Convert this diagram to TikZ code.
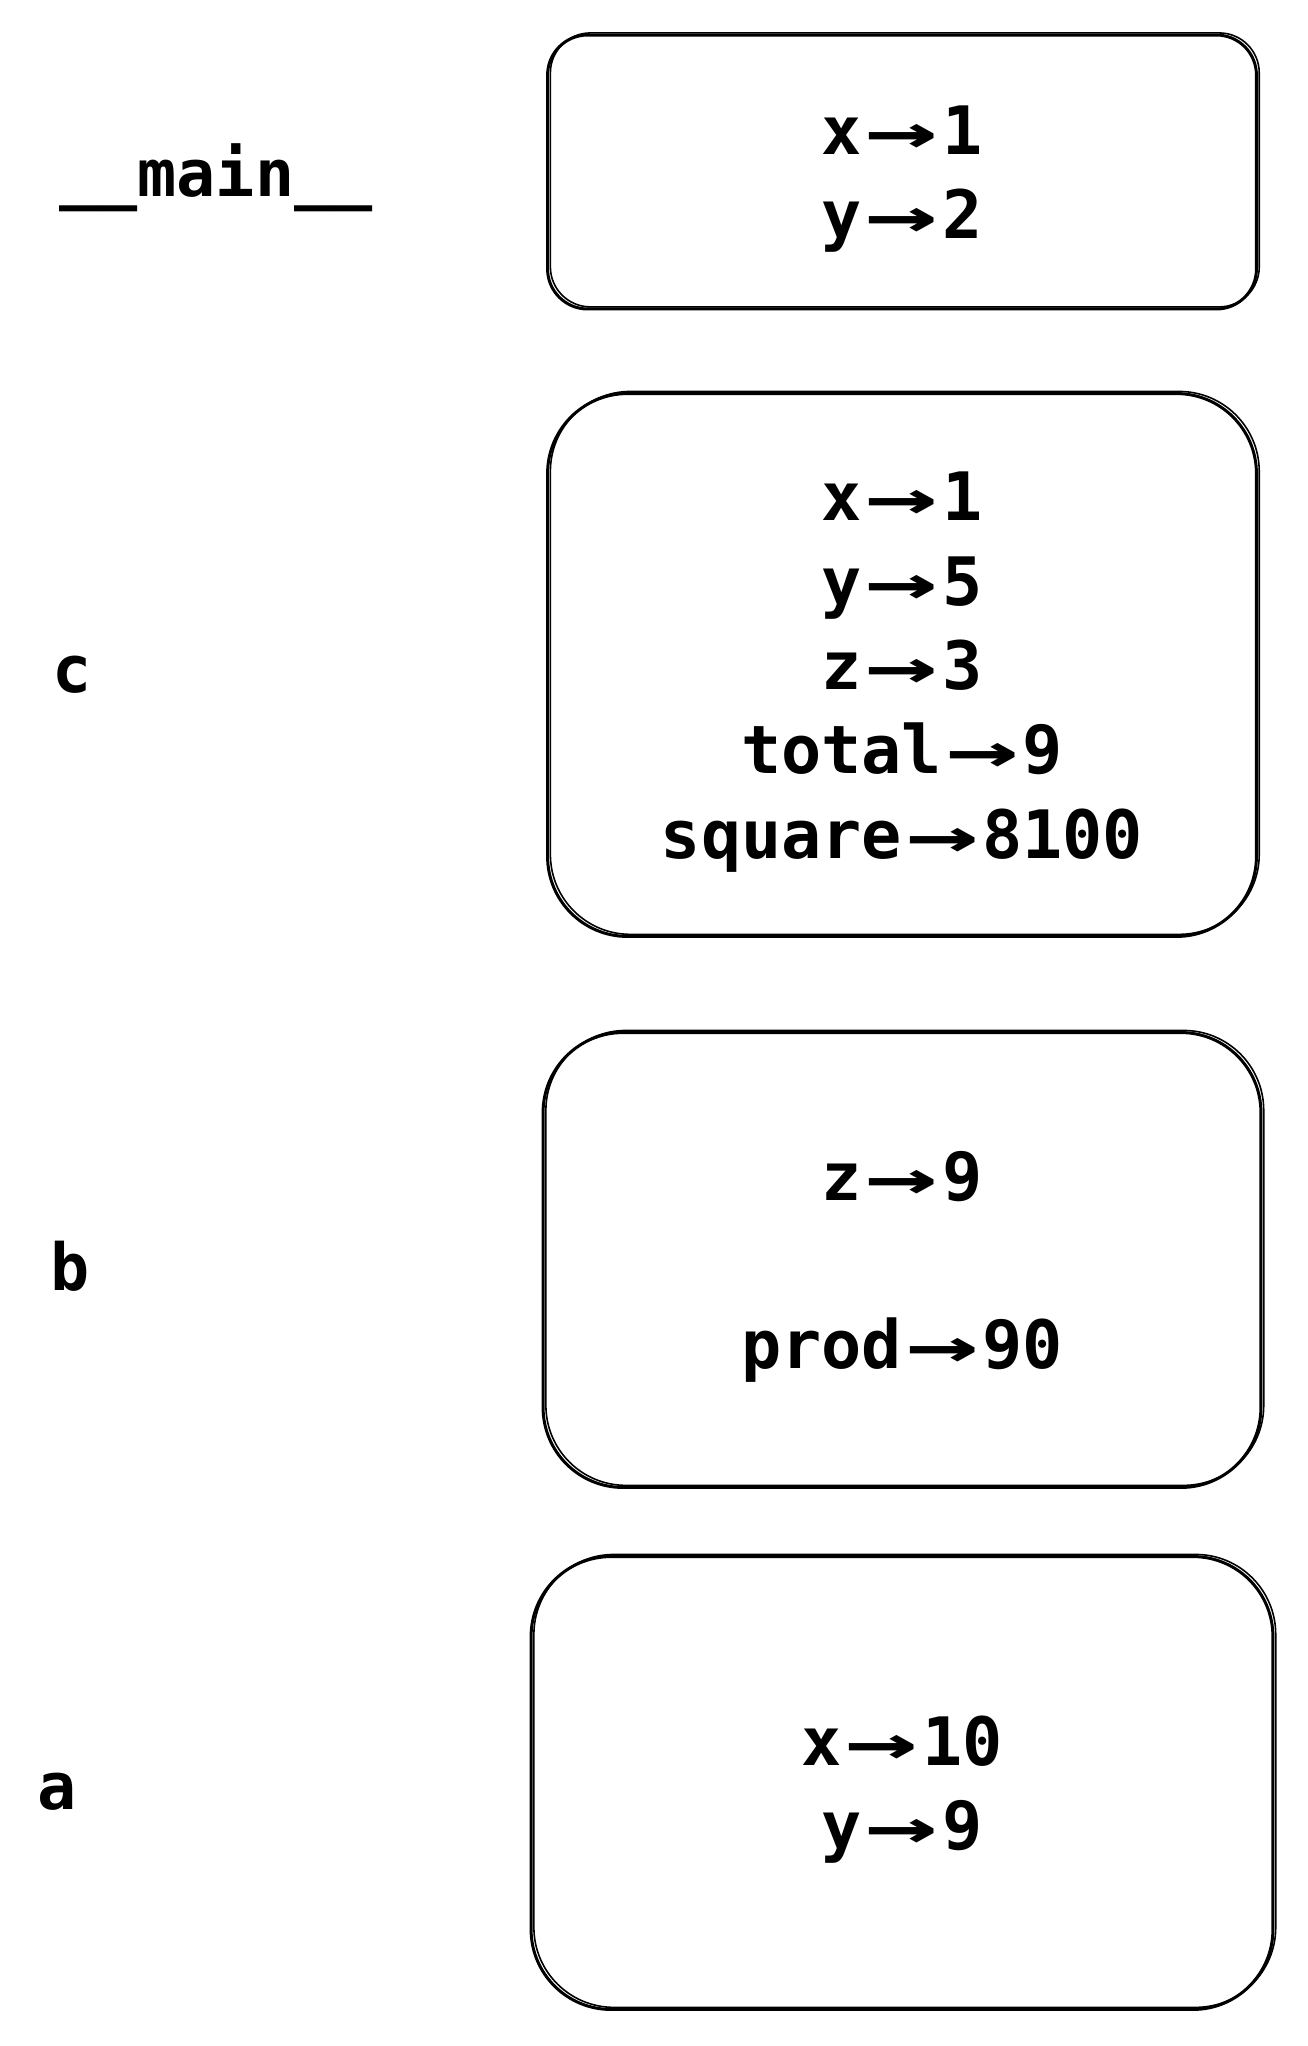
\documentclass[tikz,border=0pt]{standalone}
\usepackage{fontspec}
\setmonofont{DejaVu Sans Mono}
\usepackage{graphicx}
\usetikzlibrary{positioning}
\newcommand{\ra}{\makebox[1.204em]{\scalebox{1.8}[1]{→}}}

\begin{document}
\begin{tikzpicture}[x=0.02cm,y=-0.02cm,
  frame/.style={draw,line width=1.7pt,rounded corners=#1,align=center,
                font=\ttfamily\bfseries\fontsize{38}{48}\selectfont,inner sep=0pt,
                text depth=-4pt,
                postaction={draw,line width=0.9pt,transform canvas={xshift=1.6pt,yshift=1.2pt}}},
  fname/.style={anchor=west,inner sep=0pt,font=\ttfamily\bfseries\fontsize{37}{48}\selectfont},
]
\useasboundingbox (0,0) rectangle (1308,2046);
% frame names
\node[fname] (main) at (59,178) {\_\_main\_\_};
\node[fname] (fc) at (52,675) {c};
\node[fname] (fb) at (50,1266) {b};
\node[fname] (fa) at (37,1792) {a};
% frames
\node[frame=0.8cm,minimum width=14.18cm,minimum height=5.48cm] (mainbox) at (902,172)
  {x\ra1\\y\ra2};
\node[frame=1.6cm,minimum width=14.18cm,minimum height=10.86cm] (cbox) at (902,665)
  {x\ra1\\y\ra5\\z\ra3\\total\ra9\\square\ra8100};
\node[frame=1.6cm,minimum width=14.36cm,minimum height=9.10cm] (bbox) at (902,1260)
  {z\ra9\\[48pt]prod\ra90};
\node[frame=1.6cm,minimum width=14.84cm,minimum height=9.06cm] (abox) at (902,1783)
  {x\ra10\\y\ra9};
\end{tikzpicture}
\end{document}
